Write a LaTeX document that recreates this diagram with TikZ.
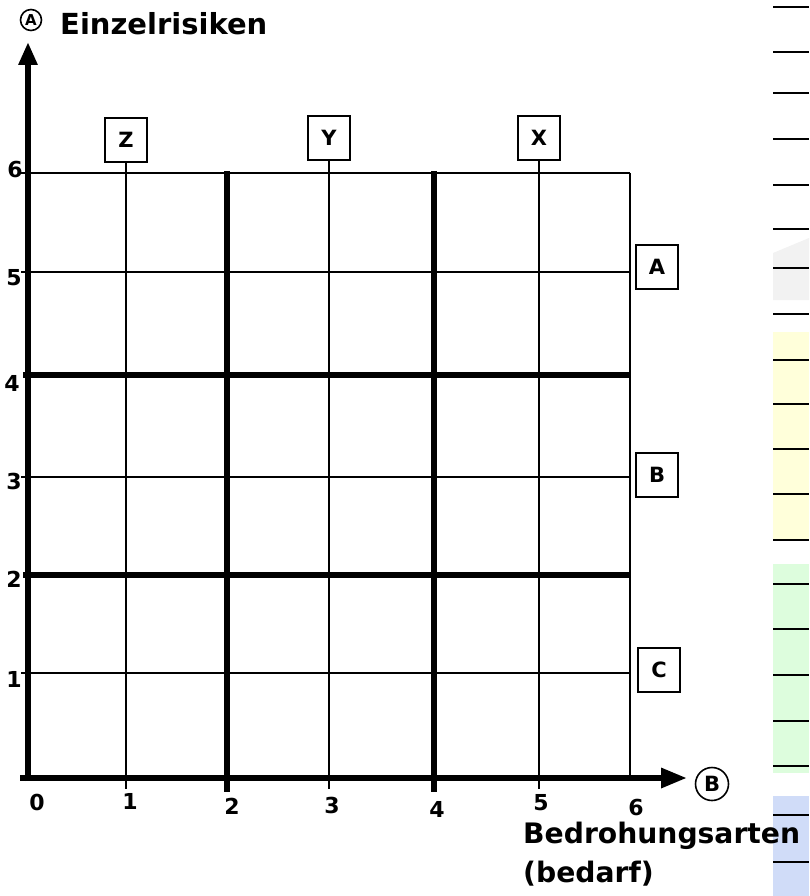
\documentclass[tikz,border=0pt]{standalone}
\usepackage{fontspec}
\setmainfont{DejaVu Sans}
\usetikzlibrary{arrows.meta}
\definecolor{yel}{HTML}{FFFFDA}
\definecolor{grn}{HTML}{DDFDDD}
\definecolor{blu}{HTML}{D0DCF8}
\definecolor{gry}{HTML}{F2F2F2}
\begin{document}
\begin{tikzpicture}[x=1pt,y=-1pt,
  thingrid/.style={line width=1.6pt},
  thickgrid/.style={line width=5.3pt},
  axisline/.style={line width=6pt},
  lbl/.style={font=\bfseries\fontsize{22}{22}\selectfont, inner sep=0pt},
  letterbox/.style={draw, line width=1.6pt, minimum width=42pt, minimum height=44pt, inner sep=0pt, font=\bfseries\fontsize{21}{21}\selectfont, fill=white},
  stripline/.style={line width=2.4pt},
  bigtext/.style={font=\bfseries\fontsize{28.2}{32}\selectfont, inner sep=0pt, anchor=base west},
]
\useasboundingbox (0,0) rectangle (809,896);
% right strip
\fill[gry] (773,253) -- (809,238) -- (809,300) -- (773,300) -- cycle;
\fill[yel] (773,332) rectangle (809,540);
\fill[grn] (773,564) rectangle (809,773);
\fill[blu] (773,796) rectangle (809,896);
\foreach \y in {7,52,93,139,185,229,268,314,360,404,449,494,540,584,629,675,721,766,815,862}
  \draw[stripline] (773,\y) -- (809,\y);
% boxes
\node[letterbox] (Z) at (126,140) {Z};
\node[letterbox] (Y) at (329,138) {Y};
\node[letterbox] (X) at (539,138) {X};
\node[letterbox] (A) at (657,267) {A};
\node[letterbox] (B) at (657,475) {B};
\node[letterbox] (C) at (659,670) {C};
\coordinate (xbottom) at (0,789);
% grid
\foreach \y in {173,272,477,673} \draw[thingrid] (21,\y) -- (630,\y);
\foreach \y in {375,575} \draw[thickgrid] (23,\y) -- (630,\y);
\draw[thingrid] (630,173) -- (630,778);
\draw[thingrid] (Z.south) -- (Z.south |- xbottom);
\draw[thingrid] (Y.south) -- (Y.south |- xbottom);
\draw[thingrid] (X.south) -- (X.south |- xbottom);
\draw[thickgrid] (227,171) -- (227,792);
\draw[thickgrid] (434,171) -- (434,792);
% axes
\draw[axisline, -{Triangle[length=23pt,width=18pt]}] (28,781) -- (28,42);
\draw[axisline, -{Triangle[length=26pt,width=19pt]}] (20,778) -- (687,778);
% axis labels
\node[lbl] (y6) at (15,170) {6};
\node[lbl] (y5) at (14,278) {5};
\node[lbl] (y4) at (12,383) {4};
\node[lbl] (y3) at (14,481) {3};
\node[lbl] (y2) at (14,579) {2};
\node[lbl] (y1) at (14,679) {1};
\node[lbl] (x0) at (37,802) {0};
\node[lbl] (x1) at (130,801) {1};
\node[lbl] (x2) at (232,806) {2};
\node[lbl] (x3) at (332,805) {3};
\node[lbl] (x4) at (437,809) {4};
\node[lbl] (x5) at (541,803) {5};
\node[lbl] (x6) at (636,807) {6};
% circled letters
\node[draw, circle, line width=1.6pt, minimum size=21pt, inner sep=0pt, font=\bfseries\fontsize{15}{15}\selectfont] (cA) at (31,20) {A};
\node[draw, circle, line width=1.6pt, minimum size=33pt, inner sep=0pt, font=\bfseries\fontsize{21}{21}\selectfont] (cB) at (712,784) {B};
% titles
\node[bigtext, font=\bfseries\fontsize{29}{32}\selectfont] (title) at (60,35) {Einzelrisiken};
\node[bigtext] (xt1) at (523,843) {Bedrohungsarten};
\node[bigtext] (xt2) at (523,882) {(bedarf)};
\end{tikzpicture}
\end{document}
